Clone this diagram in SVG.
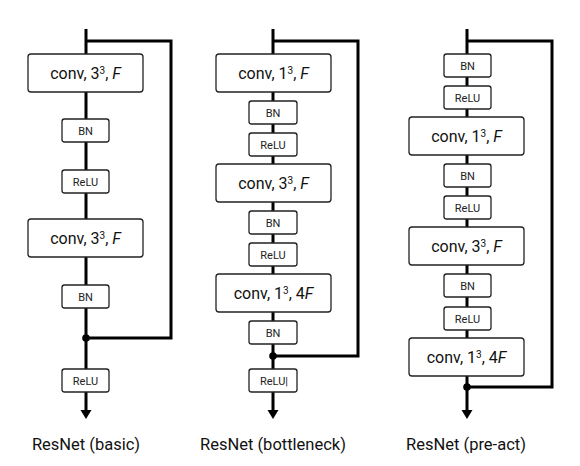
<svg xmlns="http://www.w3.org/2000/svg" width="580" height="466" viewBox="0 0 580 466">
<defs>
<style>
.bg{fill:#fff}
.ln{fill:none;stroke:#000;stroke-width:3;stroke-linejoin:miter}
.box{fill:#fff;stroke:#222;stroke-width:1.3}
.big{font-family:Roboto,"Liberation Sans",sans-serif;font-size:16px;fill:#111;text-anchor:middle}
.sm{font-family:Roboto,"Liberation Sans",sans-serif;font-size:11px;fill:#222;text-anchor:middle}
.lab{font-family:Roboto,"Liberation Sans",sans-serif;font-size:16.5px;fill:#111;text-anchor:middle}
.sup{font-size:10px}
.dot{fill:#000}
.head{fill:#000}
</style>
</defs>
<rect class="bg" width="580" height="466"/>
<g id="connectors">
<path class="ln" d="M86 29V411"/>
<path class="ln" d="M86 41H171V338H86"/>
<circle class="dot" cx="86" cy="338" r="3.8"/>
<polygon class="head" points="80.5,410 91.5,410 86,419"/>
<path class="ln" d="M273 29V411"/>
<path class="ln" d="M273 41H358V356H273"/>
<circle class="dot" cx="273" cy="356" r="3.8"/>
<polygon class="head" points="267.5,410 278.5,410 273,419"/>
<path class="ln" d="M467 29V411"/>
<path class="ln" d="M467 41H552V387H467"/>
<circle class="dot" cx="467" cy="387" r="3.8"/>
<polygon class="head" points="461.5,410 472.5,410 467,419"/>
</g>
<g id="basic">
<g id="b-conv1"><rect class="box" x="28" y="54" width="115" height="38" rx="3"/><text class="big" x="85.5" y="78.5">conv, 3<tspan class="sup" dy="-5">3</tspan><tspan dy="5">, </tspan><tspan font-style="italic">F</tspan></text></g>
<g id="b-bn1"><rect class="box" x="62" y="119" width="47" height="23" rx="2.5"/><text class="sm" x="85.5" y="134.5">BN</text></g>
<g id="b-relu1"><rect class="box" x="62" y="170" width="47" height="23" rx="2.5"/><text class="sm" x="85.5" y="185.5">ReLU</text></g>
<g id="b-conv2"><rect class="box" x="28" y="219" width="115" height="38" rx="3"/><text class="big" x="85.5" y="243.5">conv, 3<tspan class="sup" dy="-5">3</tspan><tspan dy="5">, </tspan><tspan font-style="italic">F</tspan></text></g>
<g id="b-bn2"><rect class="box" x="62" y="285" width="47" height="23" rx="2.5"/><text class="sm" x="85.5" y="300.5">BN</text></g>
<g id="b-relu2"><rect class="box" x="62" y="369" width="47" height="23" rx="2.5"/><text class="sm" x="85.5" y="384.5">ReLU</text></g>
<text class="lab" x="86" y="450">ResNet (basic)</text>
</g>
<g id="bottleneck">
<g id="n-conv1"><rect class="box" x="216" y="54" width="115" height="38" rx="3"/><text class="big" x="273.5" y="78.5">conv, 1<tspan class="sup" dy="-5">3</tspan><tspan dy="5">, </tspan><tspan font-style="italic">F</tspan></text></g>
<g id="n-bn1"><rect class="box" x="249" y="101" width="48" height="23" rx="2.5"/><text class="sm" x="273" y="116.5">BN</text></g>
<g id="n-relu1"><rect class="box" x="249" y="133" width="48" height="23" rx="2.5"/><text class="sm" x="273" y="148.5">ReLU</text></g>
<g id="n-conv2"><rect class="box" x="216" y="164" width="115" height="38" rx="3"/><text class="big" x="273.5" y="188.5">conv, 3<tspan class="sup" dy="-5">3</tspan><tspan dy="5">, </tspan><tspan font-style="italic">F</tspan></text></g>
<g id="n-bn2"><rect class="box" x="249" y="211" width="48" height="23" rx="2.5"/><text class="sm" x="273" y="226.5">BN</text></g>
<g id="n-relu2"><rect class="box" x="249" y="243" width="48" height="23" rx="2.5"/><text class="sm" x="273" y="258.5">ReLU</text></g>
<g id="n-conv3"><rect class="box" x="216" y="274" width="115" height="38" rx="3"/><text class="big" x="273.5" y="298.5">conv, 1<tspan class="sup" dy="-5">3</tspan><tspan dy="5">, 4</tspan><tspan font-style="italic">F</tspan></text></g>
<g id="n-bn3"><rect class="box" x="249" y="321" width="48" height="23" rx="2.5"/><text class="sm" x="273" y="336.5">BN</text></g>
<g id="n-relu3"><rect class="box" x="249" y="369" width="48" height="23" rx="2.5"/><text class="sm" x="274" y="384.5">ReLU|</text></g>
<text class="lab" x="273" y="450">ResNet (bottleneck)</text>
</g>
<g id="preact">
<g id="p-bn1"><rect class="box" x="444" y="54" width="47" height="23" rx="2.5"/><text class="sm" x="467.5" y="69.5">BN</text></g>
<g id="p-relu1"><rect class="box" x="444" y="86" width="47" height="23" rx="2.5"/><text class="sm" x="467.5" y="101.5">ReLU</text></g>
<g id="p-conv1"><rect class="box" x="409" y="117" width="115" height="38" rx="3"/><text class="big" x="466.5" y="141.5">conv, 1<tspan class="sup" dy="-5">3</tspan><tspan dy="5">, </tspan><tspan font-style="italic">F</tspan></text></g>
<g id="p-bn2"><rect class="box" x="444" y="164" width="47" height="23" rx="2.5"/><text class="sm" x="467.5" y="179.5">BN</text></g>
<g id="p-relu2"><rect class="box" x="444" y="196" width="47" height="23" rx="2.5"/><text class="sm" x="467.5" y="211.5">ReLU</text></g>
<g id="p-conv2"><rect class="box" x="409" y="227" width="115" height="38" rx="3"/><text class="big" x="466.5" y="251.5">conv, 3<tspan class="sup" dy="-5">3</tspan><tspan dy="5">, </tspan><tspan font-style="italic">F</tspan></text></g>
<g id="p-bn3"><rect class="box" x="444" y="274" width="47" height="23" rx="2.5"/><text class="sm" x="467.5" y="289.5">BN</text></g>
<g id="p-relu3"><rect class="box" x="444" y="307" width="47" height="23" rx="2.5"/><text class="sm" x="467.5" y="322.5">ReLU</text></g>
<g id="p-conv3"><rect class="box" x="409" y="338" width="115" height="38" rx="3"/><text class="big" x="466.5" y="362.5">conv, 1<tspan class="sup" dy="-5">3</tspan><tspan dy="5">, 4</tspan><tspan font-style="italic">F</tspan></text></g>
<text class="lab" x="466" y="450">ResNet (pre-act)</text>
</g>
</svg>
